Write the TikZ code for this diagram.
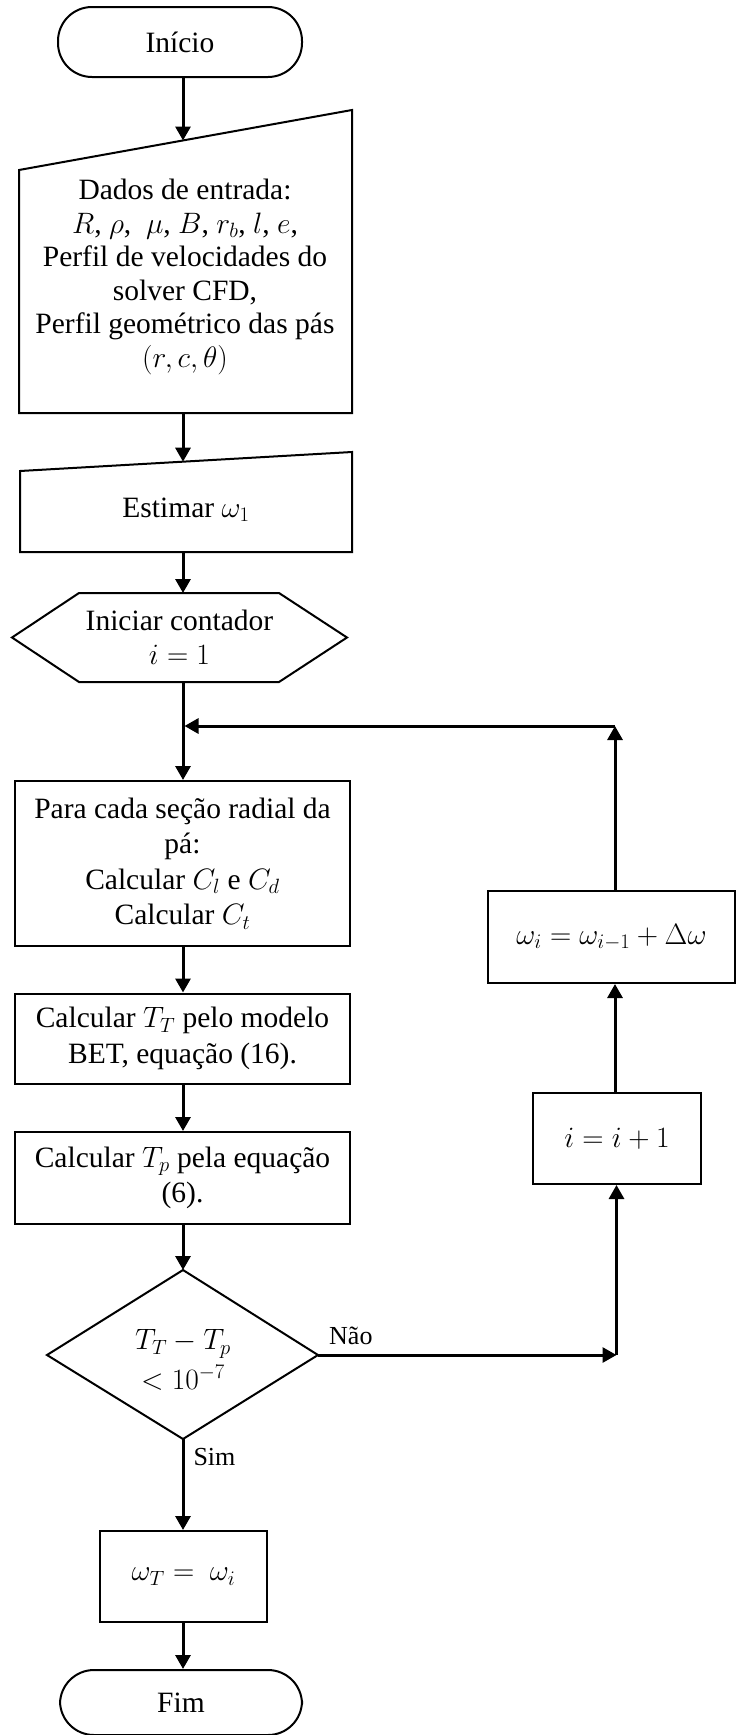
\RequirePackage{fix-cm}
\documentclass[tikz,border=0pt]{standalone}
\usepackage{fontspec}
\setmainfont{Liberation Serif}
\usetikzlibrary{arrows.meta,calc}
\begin{document}
\begin{tikzpicture}[x=1pt,y=-1pt,
  every node/.style={font=\fontsize{29.5}{33.5}\selectfont, align=center, inner sep=0pt},
  frame/.style={draw, line width=2pt, line join=miter},
  term/.style={frame, rounded corners=34pt},
  conn/.style={line width=3pt, -{Triangle[length=14pt,width=15pt]}},
  lbl/.style={font=\fontsize{26}{30}\selectfont, inner sep=0pt}]
\useasboundingbox (0,0) rectangle (737,1735);
\coordinate (col) at (183,0);
\coordinate (rc) at (615,0);

% Inicio
\node[term, minimum width=244pt, minimum height=70pt] (inicio) at (180,42) {Início};

% Dados de entrada (manual input)
\coordinate (dadosTL) at (19,170);
\coordinate (dadosTR) at (352,110);
\coordinate (dadosBR) at (352,413);
\coordinate (dadosBL) at (19,413);
\coordinate (dadosIn) at (183,140.5);
\draw[line width=2pt, line join=miter] (dadosTL) -- (dadosTR) -- (dadosBR) -- (dadosBL) -- cycle;
\node (dados) at (185,277) {Dados de entrada:\\
  $R$, $\rho$,\ \ $\mu$, $B$, $r_b$, $l$, $e$,\\
  Perfil de velocidades do\\
  solver CFD,\\
  Perfil geométrico das pás\\
  $(r, c, \theta)$};

% Estimar omega_1 (manual input)
\coordinate (estTL) at (20,471);
\coordinate (estTR) at (352,452);
\coordinate (estBR) at (352,552);
\coordinate (estBL) at (20,552);
\coordinate (estIn) at (183,461.7);
\draw[line width=2pt, line join=miter] (estTL) -- (estTR) -- (estBR) -- (estBL) -- cycle;
\node (estimar) at (186,510) {Estimar $\omega_1$};

% Iniciar contador (hexagon)
\coordinate (hexW) at (12,637.5);
\coordinate (hexNW) at (79,593);
\coordinate (hexNE) at (279,593);
\coordinate (hexE) at (347,637.5);
\coordinate (hexSE) at (279,682);
\coordinate (hexSW) at (79,682);
\draw[line width=2pt, line join=miter] (hexW) -- (hexNW) -- (hexNE) -- (hexE) -- (hexSE) -- (hexSW) -- cycle;
\node (hex) at (179.5,637.5) {Iniciar contador\\$i = 1$};

% Left column boxes
\node[frame, minimum width=335pt, minimum height=165pt] (para) at (182.5,863.5)
  {Para cada seção radial da\\[2pt]pá:\\[2pt]Calcular $C_l$ e $C_d$\\[2pt]Calcular $C_t$};
\node[frame, minimum width=335pt, minimum height=90pt] (tt) at (182.5,1038.5)
  {Calcular $T_T$ pelo modelo\\[2pt]BET, equação (16).};
\node[frame, minimum width=335pt, minimum height=92pt] (tp) at (182.5,1178)
  {Calcular $T_p$ pela equação\\[2pt](6).};

% Decision
\coordinate (decN) at (183,1270);
\coordinate (decE) at (318,1355);
\coordinate (decS) at (183,1439);
\coordinate (decW) at (47,1355);
\draw[line width=2pt, line join=miter] (decN) -- (decE) -- (decS) -- (decW) -- cycle;
\node (dec) at (183,1360) {$T_T - T_p$\\[6pt]$< 10^{-7}$};

\node[frame, minimum width=167pt, minimum height=91pt] (wT) at (183.5,1576.5) {$\omega_T =\ \omega_i$};
\node[term, minimum width=242pt, minimum height=65pt] (fim) at (181,1702.5) {Fim};

% Right column boxes
\node[frame, minimum width=247pt, minimum height=92pt] (omega) at (611.5,937) {$\omega_i = \omega_{i-1} + \Delta\omega$};
\node[frame, minimum width=168pt, minimum height=91pt] (ibox) at (617,1138.5) {$i = i + 1$};

% Loop coordinates
\coordinate (junc) at (184.5,726);
\coordinate (cornerTop) at (615,726);
\coordinate (cornerBot) at (616.5,1355);

% Connectors main column
\draw[conn] (inicio.south -| col) -- (dadosIn);
\draw[conn] (dadosBL -| col) -- (estIn);
\draw[conn] (estBL -| col) -- (hexNW -| col);
\draw[conn] (hexSW -| col) -- (para.north -| col);
\draw[conn] (para.south -| col) -- (tt.north -| col);
\draw[conn] (tt.south -| col) -- (tp.north -| col);
\draw[conn] (tp.south -| col) -- (decN);
\draw[conn] (decS) -- (wT.north -| col) node[lbl, pos=0.2, anchor=west, xshift=9pt] {Sim};
\draw[conn] (wT.south -| col) -- (fim.north -| col);

% No branch and loop
\draw[conn] (decE) -- (cornerBot);
\node[lbl, anchor=west] at (329,1336) {Não};
\draw[conn] (cornerBot) -- (ibox.south -| cornerBot);
\draw[conn] (ibox.north -| rc) -- (omega.south -| rc);
\draw[conn] (omega.north -| rc) -- (cornerTop);
\draw[conn] (cornerTop) -- (junc);
\end{tikzpicture}
\end{document}
